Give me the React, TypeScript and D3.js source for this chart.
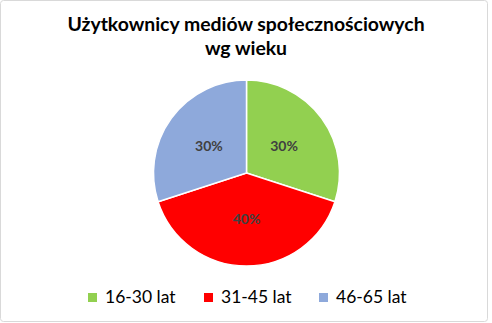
import React from "react";
import * as d3 from "d3";

const categories = ["16-30 lat", "31-45 lat", "46-65 lat"];
const values = [30, 40, 30];
const colors = ["#92D050", "#FF0000", "#8EA9DB"];
const titleLines = ["Użytkownicy mediów społecznościowych", "wg wieku"];

export default function App() {
  const W = 492, H = 323;
  const cx = 246.5, cy = 173, r = 93;
  const total = d3.sum(values);
  const pie = d3.pie<number>().sort(null).value(d => d)(values);
  const arc = d3.arc<d3.PieArcDatum<number>>().innerRadius(0).outerRadius(r);
  const labelArc = d3.arc<d3.PieArcDatum<number>>().innerRadius(r * 0.5).outerRadius(r * 0.5);
  const font = "Lato, 'Open Sans', sans-serif";
  const legendX = [88, 204, 319];
  return (
    <svg width={W} height={H} style={{ position: "absolute", left: 0, top: 0 }}>
      <rect x={0.5} y={0.5} width={487} height={321} fill="#fff" stroke="#d9d9d9" rx={3} />
      {titleLines.map((t, i) => (
        <text key={i} x={246} y={31 + i * 24} textAnchor="middle" fontFamily={font}
          fontWeight="bold" fontSize={19.4} fill="#000">{t}</text>
      ))}
      <g transform={`translate(${cx},${cy})`}>
        {pie.map((d, i) => (
          <path key={i} d={arc(d) as string} fill={colors[i]} stroke="#fff" strokeWidth={1.5} />
        ))}
        {pie.map((d, i) => {
          const [x, y] = labelArc.centroid(d);
          return (
            <text key={i} x={x} y={y} dy="0.35em" textAnchor="middle" fontFamily={font}
              fontWeight="bold" fontSize={14} fill="#404040">
              {Math.round((d.data / total) * 100)}%
            </text>
          );
        })}
      </g>
      {categories.map((c, i) => (
        <g key={c}>
          <rect x={legendX[i]} y={293} width={9} height={9} fill={colors[i]} />
          <text x={legendX[i] + 17} y={303} fontFamily={font} fontSize={17.5} fill="#000">{c}</text>
        </g>
      ))}
    </svg>
  );
}
